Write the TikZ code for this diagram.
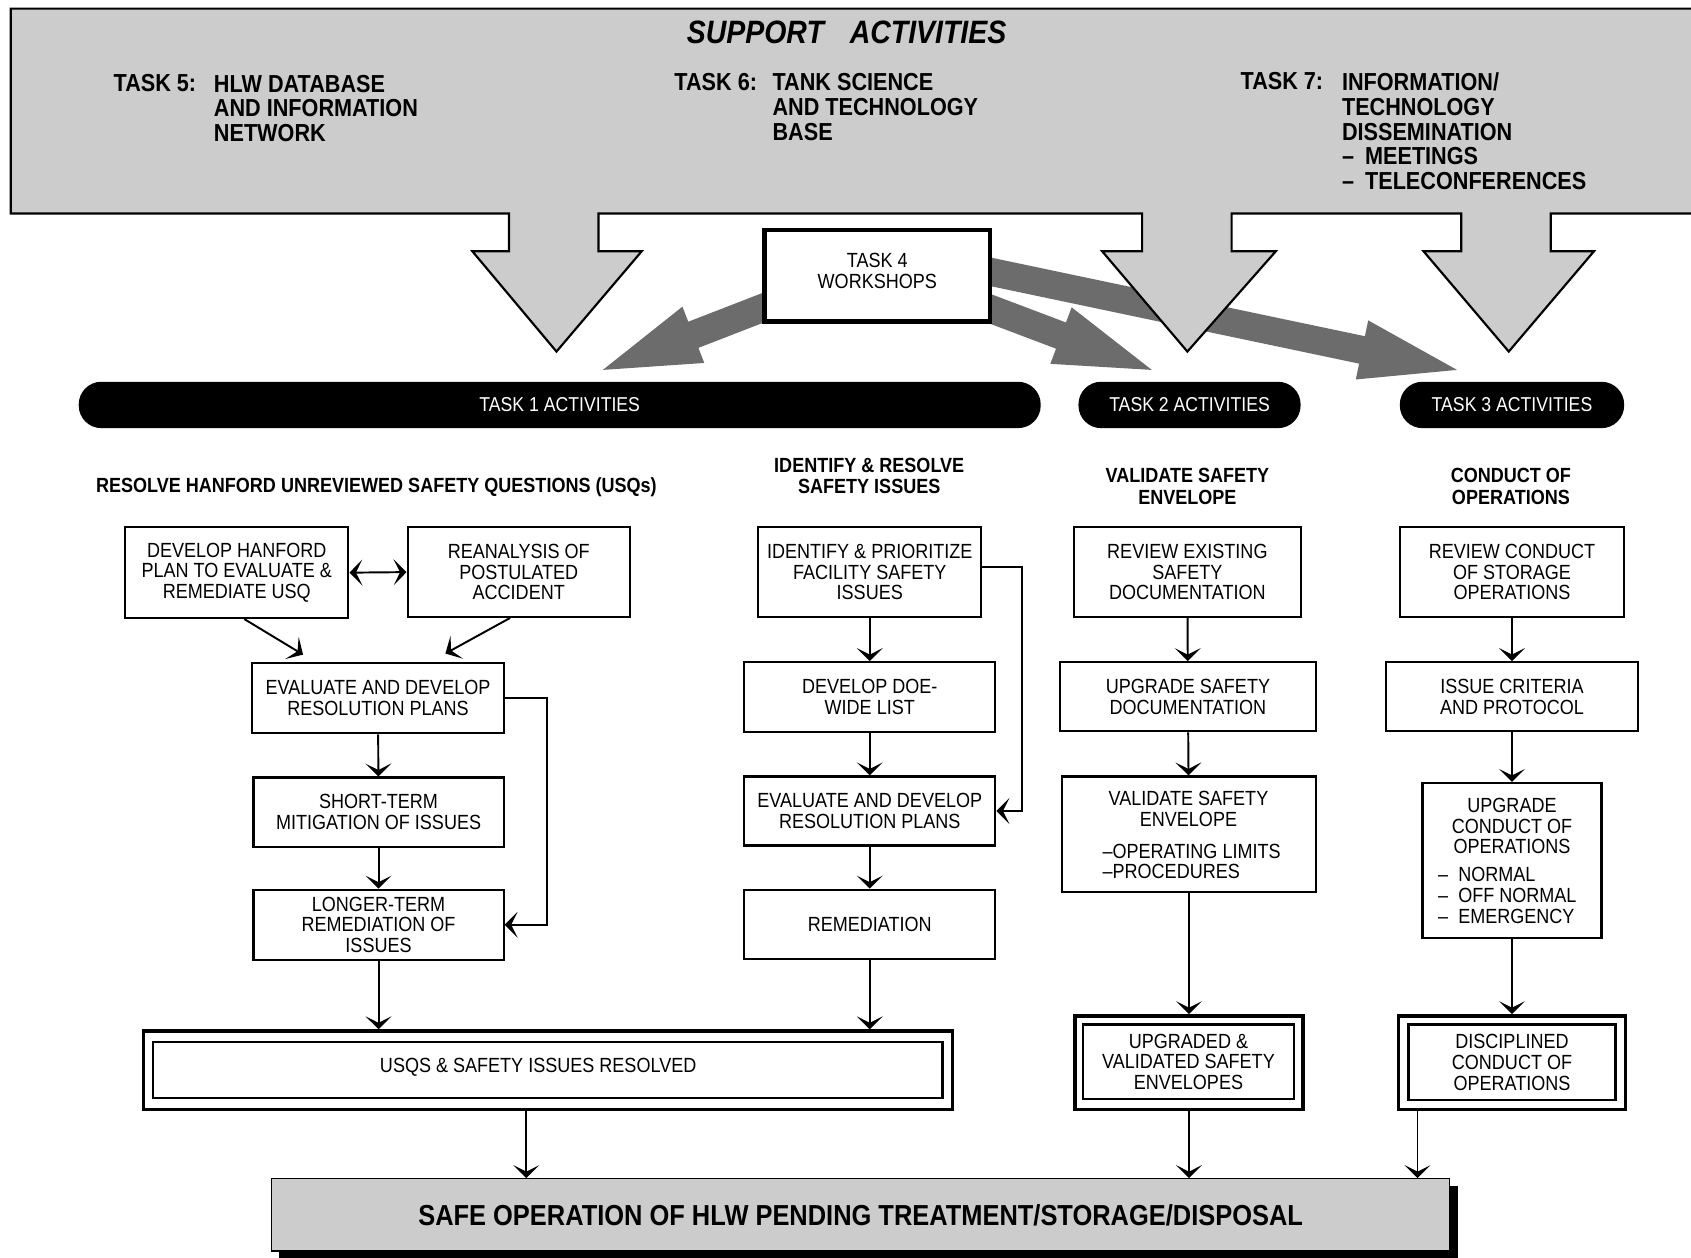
\documentclass[tikz,border=0pt]{standalone}
\usepackage{fontspec}
\setmainfont{Liberation Sans}[FakeStretch=0.88]
\usetikzlibrary{arrows.meta,calc,fit}
\definecolor{lightg}{RGB}{204,204,204}
\definecolor{darkg}{RGB}{108,108,108}
\pgfdeclarelayer{bg}
\pgfsetlayers{bg,main}
\newcommand\fatarrow[2]{%
  \coordinate (hh) at ($(#2)!45pt!(#1)$);
  \fill[darkg] ($(#1)!6.5pt!90:(#2)$) -- ($(hh)!6.5pt!90:(#2)$) -- ($(hh)!14pt!90:(#2)$) -- (#2)
    -- ($(hh)!14pt!-90:(#2)$) -- ($(hh)!6.5pt!-90:(#2)$) -- ($(#1)!6.5pt!-90:(#2)$) -- cycle;
}
% #1 style, #2 name, #3 fit coordinates, #4 text
\newcommand\mkbox[4][box]{%
  \node[#1, fit={#3}] (#2) {};
  \node[txt] (#2-t) at (#2) {#4};
}
\tikzset{
  ctip/.tip={Stealth[length=6pt,width=12pt,inset=3pt]},
  box/.style={draw, line width=1pt, inner sep=0pt},
  txt/.style={inner sep=0pt, align=center, font=\fontsize{9.5}{9.6}\selectfont},
  txtl/.style={inner sep=0pt, align=left, anchor=north west, font=\fontsize{9.5}{9.6}\selectfont},
  hd/.style={inner sep=0pt, align=center, font=\bfseries\fontsize{9.5}{9.8}\selectfont},
  pill/.style={fill=black, rounded corners=10.5pt, inner sep=0pt},
  pilltxt/.style={inner sep=0pt, text=white, font=\fontsize{9.3}{9.5}\selectfont},
  ban/.style={inner sep=0pt, align=left, font=\bfseries\fontsize{11.4}{11.5}\selectfont},
  conn/.style={line width=0.9pt, -ctip},
  dblo/.style={draw, line width=1.6pt, inner sep=0pt},
  dbli/.style={draw, line width=1.1pt, inner sep=0pt},
}
\begin{document}
\begin{tikzpicture}[x=0.5pt, y=-0.5pt]
\useasboundingbox (0,0) rectangle (1568,1166);

% ---------- banner with down arrows ----------
\filldraw[fill=lightg, line width=1pt]
  (10,8) -- (1580,8) -- (1580,198) -- (1438,198) -- (1438,233) -- (1478,233) -- (1399,326)
  -- (1320,233) -- (1355,233) -- (1355,198) -- (1142,198) -- (1142,233) -- (1183,233)
  -- (1101,326) -- (1022,233) -- (1059,233) -- (1059,198) -- (555,198) -- (555,233)
  -- (595,233) -- (516,326) -- (438,233) -- (472,233) -- (472,198) -- (10,198) -- cycle;

\node[inner sep=0pt, font=\bfseries\itshape\fontsize{15}{15}\selectfont] (sup) at (785,30) {SUPPORT\hspace{12pt}ACTIVITIES};
\node[ban, anchor=west] (t5l) at (105,77) {TASK 5:};
\node[ban, anchor=north west] (t5) at (198,69) {HLW DATABASE\\AND INFORMATION\\NETWORK};
\node[ban, anchor=west] (t6l) at (625,76) {TASK 6:};
\node[ban, anchor=north west] (t6) at (716,68) {TANK SCIENCE\\AND TECHNOLOGY\\BASE};
\node[ban, anchor=west] (t7l) at (1150,75) {TASK 7:};
\node[ban, anchor=north west] (t7) at (1244,67) {INFORMATION/\\TECHNOLOGY\\DISSEMINATION\\--\hspace{0.45em}MEETINGS\\--\hspace{0.45em}TELECONFERENCES};

% ---------- task 4 box and dark arrows ----------
\node[fit={(709,213) (918,298)}, draw, line width=2pt, fill=white, inner sep=0pt] (t4) {};
\node[txt, font=\fontsize{9.5}{9.8}\selectfont] (t4t) at ($(t4)+(0,-4)$) {TASK 4\\WORKSHOPS};
\begin{pgfonlayer}{bg}
  \coordinate (s1) at (724,279);  \coordinate (e1) at (559,343);
  \coordinate (s2) at (904,281);  \coordinate (e2) at (1068,343);
  \coordinate (s3) at (904,249);  \coordinate (e3) at (1351,343);
  \fatarrow{s1}{e1}
  \fatarrow{s2}{e2}
  \fatarrow{s3}{e3}
\end{pgfonlayer}

% ---------- activity bars ----------
\node[pill, fit={(73,354) (965,397)}] (p1) {};
\node[pilltxt] (p1t) at (p1) {TASK 1 ACTIVITIES};
\node[pill, fit={(1000,354) (1206,397)}] (p2) {};
\node[pilltxt] (p2t) at (p2) {TASK 2 ACTIVITIES};
\node[pill, fit={(1298,354) (1506,397)}] (p3) {};
\node[pilltxt] (p3t) at (p3) {TASK 3 ACTIVITIES};

% ---------- headings ----------
\node[hd] (h1) at (349,452) {RESOLVE HANFORD UNREVIEWED SAFETY QUESTIONS (USQs)};
\node[hd] (h2) at (806,441) {IDENTIFY \& RESOLVE\\SAFETY ISSUES};
\node[hd] (h3) at (1101,451) {VALIDATE SAFETY\\ENVELOPE};
\node[hd] (h4) at (1401,451) {CONDUCT OF\\OPERATIONS};

% ---------- column 1 ----------
\mkbox{a1}{(116,489) (323,573)}{DEVELOP HANFORD\\PLAN TO EVALUATE \&\\REMEDIATE USQ}
\mkbox{a2}{(378,489) (584,572)}{REANALYSIS OF\\POSTULATED\\ACCIDENT}
\mkbox{a3}{(234,615) (467,680)}{EVALUATE AND DEVELOP\\RESOLUTION PLANS}
\mkbox{a4}{(235,721) (467,785)}{SHORT-TERM\\MITIGATION OF ISSUES}
\mkbox{a5}{(235,825) (467,890)}{LONGER-TERM\\REMEDIATION OF\\ISSUES}

\draw[line width=0.9pt, ctip-ctip] (a1.east) -- (a2.west);
\draw[conn] ($(a1.south)+(7,0)$) -- ($(a3.north west)+(48,-7)$);
\draw[conn] ($(a2.south)+(-8,0)$) -- ($(a3.north east)+(-55,-8)$);
\draw[conn] (a3) -- (a4);
\draw[conn] (a4) -- (a5);
\draw[conn] (a3.east) -- ++(39,0) |- (a5.east);

% ---------- column 2 ----------
\mkbox{b1}{(703,489) (910,572)}{IDENTIFY \& PRIORITIZE\\FACILITY SAFETY\\ISSUES}
\mkbox{b2}{(690,614) (923,679)}{DEVELOP DOE-\\WIDE LIST}
\mkbox{b3}{(690,720) (923,784)}{EVALUATE AND DEVELOP\\RESOLUTION PLANS}
\mkbox{b4}{(690,825) (923,889)}{REMEDIATION}

\draw[conn] (b1) -- (b2);
\draw[conn] (b2) -- (b3);
\draw[conn] (b3) -- (b4);
\draw[conn] ($(b1.east)+(0,-5)$) -- ++(37,0) |- (b3.east);

% ---------- column 3 ----------
\mkbox{c1}{(996,489) (1206,572)}{REVIEW EXISTING\\SAFETY\\DOCUMENTATION}
\mkbox{c2}{(983,614) (1220,678)}{UPGRADE SAFETY\\DOCUMENTATION}
\node[box, fit={(985,720) (1220,827)}] (c3) {};
\node[txt] (c3a) at (1102,750) {VALIDATE SAFETY\\ENVELOPE};
\node[txtl] (c3b) at (1022,782) {--OPERATING LIMITS\\--PROCEDURES};

\draw[conn] (c1) -- (c2);
\draw[conn] (c2) -- (c3);

% ---------- column 4 ----------
\mkbox{d1}{(1298,489) (1506,572)}{REVIEW CONDUCT\\OF STORAGE\\OPERATIONS}
\mkbox{d2}{(1285,614) (1519,678)}{ISSUE CRITERIA\\AND PROTOCOL}
\node[box, fit={(1319,726) (1485,870)}] (d3) {};
\node[txt] (d3a) at (1402,766) {UPGRADE\\CONDUCT OF\\OPERATIONS};
\node[txtl, font=\fontsize{9.5}{9.75}\selectfont] (d3b) at (1333,804) {--\hspace{0.5em}NORMAL\\--\hspace{0.5em}OFF NORMAL\\--\hspace{0.5em}EMERGENCY};

\draw[conn] (d1) -- (d2);
\draw[conn] (d2) -- (d3);

% ---------- results ----------
\node[dblo, fit={(133,956) (883,1029)}] (r1o) {};
\node[dbli, fit={(142,966) (874,1018)}] (r1) {};
\node[txt] (r1t) at (499,990) {USQS \& SAFETY ISSUES RESOLVED};

\node[dblo, fit={(997,942) (1208,1029)}] (c4o) {};
\mkbox[dbli]{c4}{(1004,950) (1200,1019)}{UPGRADED \&\\VALIDATED SAFETY\\ENVELOPES}

\node[dblo, fit={(1297,942) (1507,1029)}] (d4o) {};
\mkbox[dbli]{d4}{(1306,950) (1498,1020)}{DISCIPLINED\\CONDUCT OF\\OPERATIONS}

\draw[conn] (a5.south) -- (a5.south |- r1o.north);
\draw[conn] (b4.south) -- (b4.south |- r1o.north);
\draw[conn] (c3.south) -- (c3.south |- c4o.north);
\draw[conn] (d3.south) -- (d3.south |- d4o.north);

% ---------- final bar ----------
\fill[black] (259,1100) rectangle (1352,1175);
\node[fit={(252,1093) (1344,1160)}, fill=lightg, draw, line width=0.6pt, inner sep=0pt] (fin) {};
\node[inner sep=0pt, font=\bfseries\fontsize{13.4}{13.4}\selectfont] (fint) at (fin) {SAFE OPERATION OF HLW PENDING TREATMENT/STORAGE/DISPOSAL};

\coordinate (r1x) at ($(r1o.south)+(-20,0)$);
\coordinate (d4x) at ($(d4o.south west)+(19,0)$);
\draw[conn] (r1x) -- (r1x |- fin.north);
\draw[conn] (c4o.south) -- (c4o.south |- fin.north);
\draw[conn] (d4x) -- (d4x |- fin.north);
\end{tikzpicture}
\end{document}
